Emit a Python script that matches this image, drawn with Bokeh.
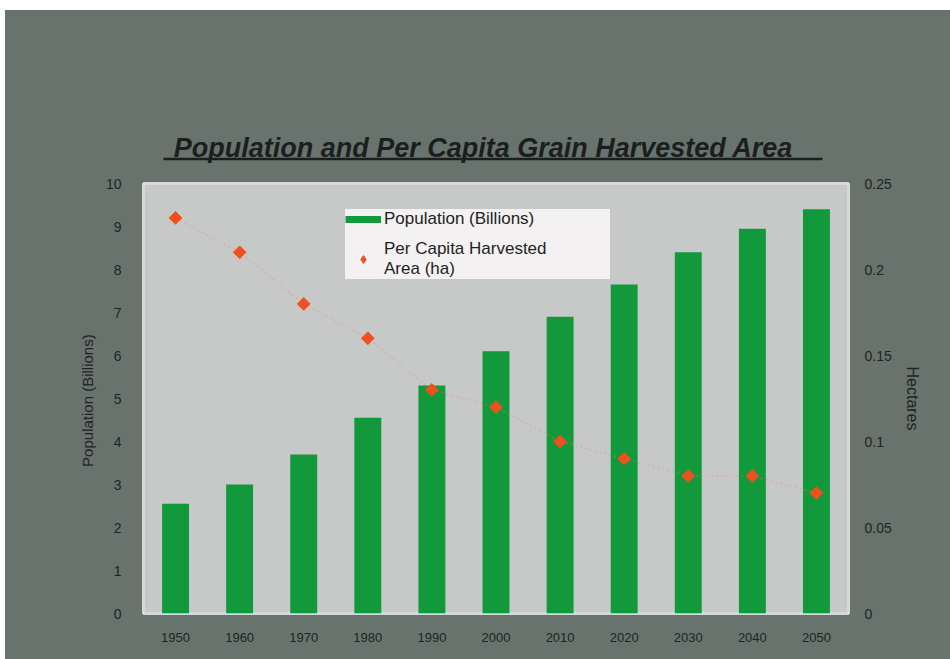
import math
from bokeh.plotting import figure
from bokeh.layouts import column
from bokeh.models import (Range1d, LinearAxis, FixedTicker, NumeralTickFormatter,
                          Legend, LegendItem, ColumnDataSource)
from bokeh.core.properties import value
from bokeh.embed import file_html
from bokeh.resources import INLINE

years = ["1950", "1960", "1970", "1980", "1990", "2000", "2010", "2020", "2030", "2040", "2050"]
population = [2.55, 3.0, 3.7, 4.55, 5.3, 6.1, 6.9, 7.65, 8.4, 8.95, 9.4]
area_per_capita = [0.23, 0.21, 0.18, 0.16, 0.13, 0.12, 0.10, 0.09, 0.08, 0.08, 0.07]
left_ticks = list(range(0, 11))
right_ticks = [0, 0.05, 0.1, 0.15, 0.2, 0.25]

title_text = "Population and Per Capita Grain Harvested Area"
bar_label = "Population (Billions)"
dot_label = "Per Capita Harvested\nArea (ha)"

W = 945
HEAD_H = 155
MAIN_H = 494
FONT = "Liberation Sans"
BG = "#68736e"
INK = "#1e2422"

# ---------- header with underlined title ----------
head = figure(width=W, height=HEAD_H, x_range=Range1d(0, W), y_range=Range1d(0, HEAD_H),
              output_backend="svg", toolbar_location=None,
              x_axis_location=None, y_axis_location=None,
              min_border_left=0, min_border_right=0, min_border_top=0, min_border_bottom=0)
head.frame_align = False
head.background_fill_color = BG
head.border_fill_color = BG
head.outline_line_color = None
head.grid.visible = False
head.text(x=[478], y=[18], text=[title_text], text_font=value(FONT), text_font_size="27px",
          text_font_style="bold italic", text_color="#1a1f1d", text_align="center",
          text_baseline="middle")
head.segment(x0=[158], y0=[6.5], x1=[817], y1=[6.5], line_color="#1a1f1d", line_width=2.5)

# ---------- main chart ----------
p = figure(width=W, height=MAIN_H, x_range=years, y_range=Range1d(0, 10),
           output_backend="svg", toolbar_location=None,
           min_border_left=138, min_border_right=102, min_border_top=18, min_border_bottom=46)
p.frame_align = False
p.background_fill_color = "#c7c8c8"
p.border_fill_color = BG
p.outline_line_color = "#d8d8d8"
p.outline_line_width = 3
p.grid.visible = False

p.extra_y_ranges = {"ha": Range1d(0, 0.25)}

src = ColumnDataSource(dict(year=years, pop=population, area=area_per_capita))
bars = p.vbar(x="year", top="pop", width=0.42, source=src, fill_color="#11993c", line_color=None)
line = p.line(x="year", y="area", source=src, y_range_name="ha", line_color="#f08a60",
              line_alpha=0.35, line_width=1.5, line_dash="2 3")
dots = p.scatter(x="year", y="area", source=src, y_range_name="ha", marker="square",
                 angle=math.pi / 4, size=9, fill_color="#f0501e", line_color="#f0501e")

# legend proxies
bar_proxy = p.line(x=[years[0], years[0]], y=[-5, -5], line_color="#11993c", line_width=7)
dot_proxy = p.scatter(x=[years[0]], y=[-5], marker="diamond", size=14,
                      fill_color="#f0501e", line_color="#f0501e")

ax = p.yaxis[0]
ax.ticker = FixedTicker(ticks=left_ticks)
ax.axis_label = "Population  (Billions)"
ax.axis_line_color = None
ax.major_tick_line_color = None
ax.minor_tick_line_color = None
ax.major_label_text_font = FONT
ax.major_label_text_font_size = "14px"
ax.major_label_text_color = INK
ax.axis_label_text_font = FONT
ax.axis_label_text_font_style = "normal"
ax.axis_label_text_font_size = "15px"
ax.axis_label_text_color = INK
ax.major_label_standoff = 16
ax.axis_label_standoff = 7

rax = LinearAxis(y_range_name="ha", ticker=FixedTicker(ticks=right_ticks),
                 formatter=NumeralTickFormatter(format="0.[00]"), axis_label="Hectares")
rax.axis_line_color = None
rax.major_tick_line_color = None
rax.minor_tick_line_color = None
rax.major_label_text_font = FONT
rax.major_label_text_font_size = "14px"
rax.major_label_text_color = INK
rax.axis_label_text_font = FONT
rax.axis_label_text_font_style = "normal"
rax.axis_label_text_font_size = "16px"
rax.axis_label_text_color = INK
rax.major_label_standoff = 10
rax.axis_label_standoff = 9
p.add_layout(rax, "right")

xa = p.xaxis[0]
xa.axis_line_color = None
xa.major_tick_line_color = None
xa.major_label_text_font = FONT
xa.major_label_text_font_size = "13px"
xa.major_label_text_color = INK
xa.major_label_standoff = 13

legend = Legend(items=[LegendItem(label=bar_label, renderers=[bar_proxy]),
                       LegendItem(label=dot_label, renderers=[dot_proxy])],
                location=(202, 334), background_fill_color="#f3f1f1", background_fill_alpha=1,
                border_line_color=None, label_text_font=FONT, label_text_font_size="17px",
                label_text_color=INK, glyph_width=36, glyph_height=20, spacing=10,
                padding=14, margin=0, label_standoff=3, label_width=226)
p.add_layout(legend)

layout = column(head, p, spacing=0, styles={"background-color": BG})
layout.margin = (10, 0, 0, 5)
open("out.html", "w").write(file_html(layout, INLINE))
